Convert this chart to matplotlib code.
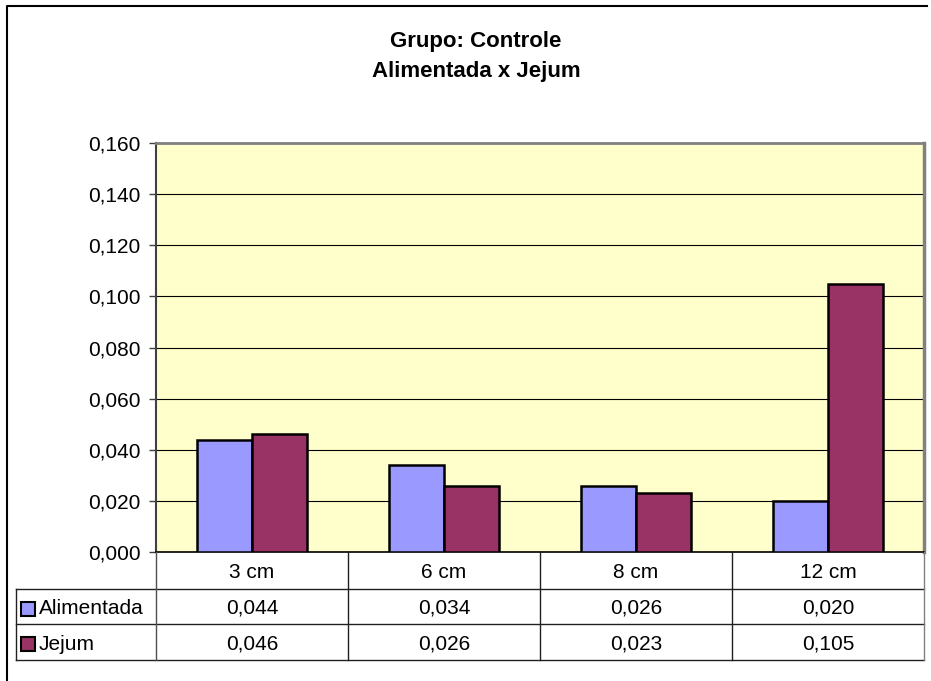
import matplotlib
matplotlib.use('Agg')
import matplotlib.pyplot as plt
from matplotlib.lines import Line2D
from matplotlib.patches import Rectangle
import numpy as np

plt.rcParams['font.family'] = ['Liberation Sans', 'DejaVu Sans']

# chart data
categories = ['3 cm', '6 cm', '8 cm', '12 cm']
series_names = ['Alimentada', 'Jejum']
alimentada = [0.044, 0.034, 0.026, 0.020]
jejum = [0.046, 0.026, 0.023, 0.105]
series_colors = ['#9999FF', '#993366']

W, H = 931, 681
fig = plt.figure(figsize=(W / 100, H / 100), dpi=100)


def fx(px):
    return px / W


def fy(py):
    return 1 - py / H


# plot area in pixel coords
left, right, top, bottom = 156, 924, 143, 552
ax = fig.add_axes([fx(left), fy(bottom), fx(right - left), (bottom - top) / H])
ax.set_facecolor('#FFFFCC')

x = np.arange(len(categories))
bw = 0.284
for vals, off, col in [(alimentada, -bw / 2, series_colors[0]), (jejum, bw / 2, series_colors[1])]:
    ax.bar(x + off, vals, width=bw, color=col, edgecolor='black', linewidth=1.8, zorder=3)

ax.set_xlim(-0.5, len(categories) - 0.5)
ax.set_ylim(0, 0.16)
yt = np.arange(0, 0.161, 0.02)
ax.set_yticks(yt)
ax.set_yticklabels([f'{v:.3f}'.replace('.', ',') for v in yt], fontsize=15)
ax.set_xticks([])
ax.tick_params(axis='y', direction='out', length=5, width=1, color='#404040', pad=6)
ax.grid(axis='y', color='black', linewidth=0.8, zorder=1)
ax.spines['top'].set_color('#808080')
ax.spines['top'].set_linewidth(2)
ax.spines['right'].set_color('#808080')
ax.spines['right'].set_linewidth(2.5)
ax.spines['left'].set_color('#404040')
ax.spines['left'].set_linewidth(1.5)
ax.spines['bottom'].set_color('black')
ax.spines['bottom'].set_linewidth(1.2)

# title
fig.text(fx(476), fy(42), 'Grupo: Controle', ha='center', va='center',
         fontsize=16, fontweight='bold')
fig.text(fx(476), fy(72), 'Alimentada x Jejum', ha='center', va='center',
         fontsize=16, fontweight='bold')

# data table below the axis
rows_y = [552, 589, 624, 660]
col_x = [left + (right - left) / len(categories) * k for k in range(len(categories) + 1)]
lc = '#202020'


def hline(y, x0, x1):
    fig.add_artist(Line2D([fx(x0), fx(x1)], [fy(y), fy(y)], color=lc, linewidth=1))


def vline(xp, y0, y1, color=lc):
    fig.add_artist(Line2D([fx(xp), fx(xp)], [fy(y0), fy(y1)], color=color, linewidth=1))


for y in rows_y[1:]:
    hline(y, 16, right)
vline(16, rows_y[1], rows_y[-1])
for xp in col_x[:-1]:
    vline(xp, rows_y[0], rows_y[-1], color='#505050' if xp == left else lc)
vline(right, rows_y[0], rows_y[-1], color='#808080')

for i, cat in enumerate(categories):
    cx = (col_x[i] + col_x[i + 1]) / 2
    fig.text(fx(cx), fy((rows_y[0] + rows_y[1]) / 2 + 2), cat, ha='center', va='center', fontsize=15)
    for r, vals in enumerate([alimentada, jejum]):
        cy = (rows_y[r + 1] + rows_y[r + 2]) / 2 + 2
        fig.text(fx(cx), fy(cy), f'{vals[i]:.3f}'.replace('.', ','),
                 ha='center', va='center', fontsize=15)

for r, (name, col) in enumerate(zip(series_names, series_colors)):
    cy = (rows_y[r + 1] + rows_y[r + 2]) / 2 + 2
    fig.add_artist(Rectangle((fx(21), fy(cy + 7)), fx(14), 14 / H, facecolor=col,
                             edgecolor='black', linewidth=1.5))
    fig.text(fx(39), fy(cy), name, ha='left', va='center', fontsize=15)

# chart border (left and top visible)
fig.add_artist(Line2D([fx(7), fx(7), fx(927)], [0, fy(6), fy(6)], color='black', linewidth=1.5))

fig.savefig('out.png', dpi=100)
